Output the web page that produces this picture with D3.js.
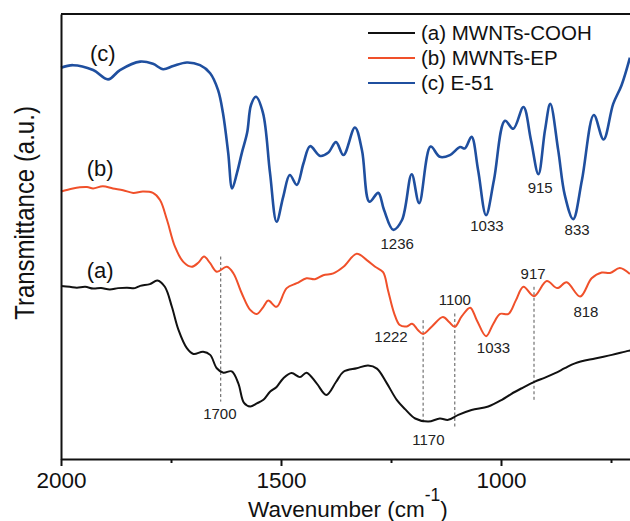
<!DOCTYPE html>
<html>
<head>
<meta charset="utf-8">
<script src="https://cdn.jsdelivr.net/npm/d3@7"></script>
<style>
  body { margin: 0; background: #fff; }
  svg { display: block; font-family: "Liberation Sans", Arial, sans-serif; }
</style>
</head>
<body>
<svg id="chart" width="630" height="521"></svg>
<script>
// FTIR spectra, wavenumber (cm-1) vs transmittance (a.u., offset traces)
var seriesNames = ["(a) MWNTs-COOH", "(b) MWNTs-EP", "(c) E-51"];
var seriesColors = ["#111111", "#f0502a", "#1f4f9f"];

// (a) MWNTs-COOH
var wnA = [2000, 1980, 1964, 1945, 1927, 1909, 1889, 1870, 1850, 1832, 1820, 1798, 1781, 1764, 1748, 1733,
  1714, 1699, 1677, 1661, 1646, 1631, 1612, 1597, 1584, 1570, 1555, 1540, 1525, 1510, 1495, 1476, 1457,
  1442, 1419, 1397, 1375, 1358, 1328, 1302, 1282, 1260, 1237, 1218, 1195, 1165, 1139, 1120, 1097, 1067,
  1029, 998, 977, 953, 923, 900, 877, 855, 832, 786, 748, 711, 700];
var tA = [38.9, 38.7, 38.5, 38.7, 38.3, 38.4, 38.1, 38.4, 38.5, 38.4, 38.9, 39.3, 40.1, 38.7, 34.2, 29.0,
  24.9, 23.6, 24.1, 23.4, 20.4, 19.4, 19.7, 17.0, 12.6, 11.8, 12.5, 13.3, 15.1, 16.2, 18.1, 19.3, 18.4,
  19.4, 17.0, 14.4, 17.3, 19.6, 20.4, 21.0, 20.3, 17.1, 13.3, 11.2, 9.1, 8.4, 9.1, 8.8, 9.9, 11.0,
  11.8, 13.3, 14.6, 15.9, 17.4, 18.3, 19.3, 20.4, 21.5, 22.6, 23.4, 24.3, 24.5];

// (b) MWNTs-EP
var wnB = [2000, 1973, 1941, 1927, 1905, 1882, 1859, 1836, 1814, 1791, 1775, 1759, 1741, 1722, 1703, 1688,
  1675, 1661, 1646, 1623, 1608, 1589, 1570, 1555, 1540, 1529, 1510, 1487, 1464, 1442, 1423, 1404, 1381,
  1358, 1328, 1305, 1286, 1268, 1257, 1243, 1230, 1214, 1202, 1189, 1177, 1157, 1132, 1118, 1105, 1089,
  1070, 1055, 1034, 1018, 1002, 983, 966, 949, 925, 896, 872, 851, 820, 794, 771, 752, 730, 707];
var tB = [60.1, 60.8, 61.1, 60.8, 61.3, 60.8, 60.4, 59.8, 60.1, 59.8, 58.2, 53.7, 47.7, 44.3, 43.2, 44.1,
  45.5, 44.0, 42.1, 43.2, 41.7, 37.2, 33.5, 32.6, 34.2, 35.6, 34.2, 38.4, 39.5, 40.6, 40.4, 41.3, 41.7,
  43.2, 46.1, 44.7, 43.2, 42.0, 38.0, 32.8, 30.1, 29.8, 30.4, 29.0, 28.1, 29.8, 31.9, 30.8, 29.7, 32.1,
  34.0, 31.2, 27.6, 30.3, 32.6, 32.6, 35.7, 38.7, 36.6, 40.0, 38.4, 39.7, 36.5, 40.6, 41.9, 41.8, 42.9, 41.6];

// (c) E-51
var wnC = [2000, 1973, 1927, 1893, 1866, 1820, 1791, 1768, 1745, 1714, 1684, 1661, 1643, 1632, 1620, 1611,
  1600, 1589, 1577, 1568, 1557, 1541, 1525, 1510, 1495, 1480, 1464, 1449, 1434, 1411, 1393, 1375, 1358,
  1332, 1316, 1299, 1279, 1266, 1245, 1225, 1203, 1186, 1160, 1139, 1116, 1093, 1082, 1067, 1052, 1034,
  1016, 991, 972, 949, 932, 915, 900, 888, 870, 855, 836, 816, 789, 767, 745, 726, 707];
var tC = [87.9, 88.5, 87.4, 85.3, 87.4, 89.3, 88.8, 87.6, 88.3, 89.1, 88.5, 86.7, 82.9, 77.8, 68.8, 60.8,
  64.3, 68.8, 73.3, 79.6, 81.4, 77.8, 64.3, 53.3, 58.9, 63.8, 61.6, 66.4, 70.3, 68.1, 68.8, 71.2, 68.3,
  74.5, 69.4, 57.8, 59.8, 56.0, 51.5, 53.7, 64.0, 57.5, 70.2, 67.9, 68.3, 70.1, 69.8, 72.4, 64.9, 54.8,
  62.7, 76.0, 74.2, 79.1, 71.7, 64.0, 73.9, 79.8, 69.4, 59.3, 53.9, 62.7, 77.3, 71.8, 79.8, 84.0, 90.2];

// band annotations: label, wavenumber, transmittance of label centre
var bandsA = [["1700", 1639, 10.1], ["1170", 1165, 4.3]];
var bandsB = [["1222", 1250, 27.4], ["1100", 1105, 35.9], ["1033", 1017, 25.1], ["917", 927, 41.7], ["818", 807, 33.1]];
var bandsC = [["1236", 1236, 48.5], ["1033", 1032, 52.4], ["915", 911, 60.9], ["833", 827, 51.5]];

// dashed guide lines: wavenumber, top, bottom
var guides = [[1637, 45.5, 12.9], [1177, 31.2, 8.0], [1105, 32.7, 6.9], [925, 38.7, 12.9]];

var traceLabels = [["(a)", 1911, 42.5], ["(b)", 1911, 65.4], ["(c)", 1905, 91.2]];
var majorTicks = [2000, 1500, 1000];
var minorTicks = [1750, 1250, 750];

var margin = {top: 14, left: 61};
var w = 572, h = 445;

var svg = d3.select("#chart");
var g = svg.append("g").attr("transform", "translate(" + margin.left + "," + margin.top + ")");

var x = d3.scaleLinear().domain([2000, 700]).range([0, w]);
var y = d3.scaleLinear().domain([0, 100]).range([h, 0]);

var line = d3.line()
  .x(function (d) { return x(d[0]); })
  .y(function (d) { return y(d[1]); })
  .curve(d3.curveCatmullRom.alpha(0.5));

var series = [d3.zip(wnA, tA), d3.zip(wnB, tB), d3.zip(wnC, tC)];
var widths = [2, 2, 2.6];

// guides first so the traces sit on top
g.selectAll(".guide").data(guides).enter().append("line")
  .attr("class", "guide")
  .attr("x1", function (d) { return x(d[0]); })
  .attr("x2", function (d) { return x(d[0]); })
  .attr("y1", function (d) { return y(d[1]); })
  .attr("y2", function (d) { return y(d[2]); })
  .attr("stroke", "#555")
  .attr("stroke-width", 1)
  .attr("stroke-dasharray", "3,2.5");

series.forEach(function (s, i) {
  g.append("path")
    .datum(s)
    .attr("d", line)
    .attr("fill", "none")
    .attr("stroke", seriesColors[i])
    .attr("stroke-width", widths[i])
    .attr("stroke-linejoin", "round");
});

var bands = bandsA.concat(bandsB, bandsC);
g.selectAll(".band").data(bands).enter().append("text")
  .attr("class", "band")
  .attr("x", function (d) { return x(d[1]); })
  .attr("y", function (d) { return y(d[2]); })
  .attr("dy", "0.36em")
  .attr("text-anchor", "middle")
  .attr("font-size", 15)
  .attr("fill", "#222")
  .text(function (d) { return d[0]; });

g.selectAll(".trace-label").data(traceLabels).enter().append("text")
  .attr("class", "trace-label")
  .attr("x", function (d) { return x(d[1]); })
  .attr("y", function (d) { return y(d[2]); })
  .attr("dy", "0.36em")
  .attr("text-anchor", "middle")
  .attr("font-size", 22)
  .attr("fill", "#111")
  .text(function (d) { return d[0]; });

// axes
var xAxis = g.append("g")
  .attr("transform", "translate(0," + h + ")")
  .call(d3.axisBottom(x).tickValues(majorTicks).tickSize(7).tickSizeOuter(0).tickPadding(6)
    .tickFormat(d3.format("d")));
xAxis.selectAll("text").attr("font-size", 22.5).attr("fill", "#111").attr("font-family", "inherit");

var xMinor = g.append("g")
  .attr("transform", "translate(0," + h + ")")
  .call(d3.axisBottom(x).tickValues(minorTicks).tickSize(4).tickFormat(""));
xMinor.select(".domain").remove();

var yAxis = g.append("g").call(d3.axisLeft(y).tickValues([]).tickSizeOuter(0));

g.append("line")
  .attr("x1", 0).attr("x2", w).attr("y1", 0).attr("y2", 0)
  .attr("stroke", "#111");

g.selectAll(".domain, .tick line, line").filter(function () { return !this.classList.contains("guide"); })
  .attr("stroke", "#111").attr("stroke-width", 2);

// axis titles
var xt = svg.append("text")
  .attr("x", 248)
  .attr("y", 517)
  .attr("font-size", 22.5)
  .attr("fill", "#111");
xt.append("tspan").text("Wavenumber (cm");
xt.append("tspan").attr("font-size", 17.5).attr("dy", -16).text("-1");
xt.append("tspan").attr("dy", 16).text(")");

svg.append("text")
  .attr("transform", "translate(34," + 213 + ") rotate(-90) scale(1,1.12)")
  .attr("text-anchor", "middle")
  .attr("font-size", 24)
  .attr("fill", "#111")
  .text("Transmittance (a.u.)");

// legend
var legend = svg.append("g").attr("transform", "translate(368,33)");
seriesNames.forEach(function (name, i) {
  var row = legend.append("g").attr("transform", "translate(0," + i * 25 + ")");
  row.append("line")
    .attr("x1", 0).attr("x2", 47).attr("y1", 0).attr("y2", 0)
    .attr("stroke", seriesColors[i]).attr("stroke-width", 2.2);
  row.append("text")
    .attr("x", 53).attr("y", 7)
    .attr("font-size", 20.5)
    .attr("fill", "#111")
    .text(name);
});
</script>
</body>
</html>
